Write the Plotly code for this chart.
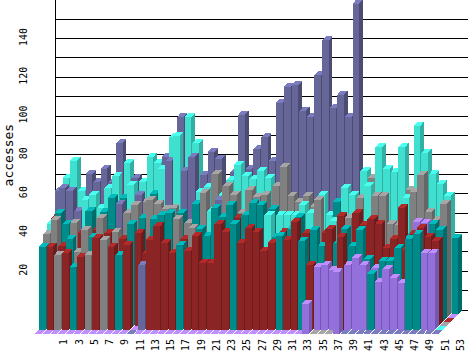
import plotly.graph_objects as go

weeks = list(range(1, 54))
lilac = [0,0,0,0,0,0,0,0,0,0,0,0,0,0,0,0,0,0,0,0,0,0,0,0,0,0,0,0,0,0,0,0,0,0,0,15.5,32.3,33.5,31,32,33.5,37,33.5,29.7,24.9,31.3,27,24,51.7,51,39.5,39.5,0]
teal = [43,56,50.5,44.7,32.3,57,46,56.9,64,62,38.7,52.6,53.4,64,55,57,58,56,43.8,61,50,46.4,60.6,56,62.4,54.6,57.2,63.2,62.4,58,45.7,48.5,50,56,46,49.5,41,60,42.6,50,41,49.5,34.4,28.9,33.7,33.7,40,44,47,49.3,50.5,47.6,39]
red = [51.4,43,41,39.5,46,37.8,47.4,47.3,47.8,43,45,43.8,48,37.5,46.4,53.6,45,39.9,44.7,40.9,48.5,34.7,34.7,54.6,50.7,55.5,45,52.4,50.7,40.9,45,48.6,46.4,55.8,47.8,33.5,46,49.8,54.8,48,56,50,52.9,50.5,38,43,59,39,47.5,50.7,46,44,0]
gray = [47.3,54.6,38.7,50.9,38,49.7,38.7,55.5,46.4,48.6,56,60.3,60,63,61,58,58.6,55,51,50.3,66.7,74,64,70,65.5,56.4,68,64.6,65.5,68,78,63,60,63,57.4,62.9,0,0,0,53.4,61.7,70,63,63,48.5,48,64,65,73.7,54.5,50.6,59,0]
turquoise = [50.5,70,79,63.6,61,63.6,56.5,66.8,73,77.7,68.7,68,81,78,77,91,94,101.5,88,65,67.5,57,63.4,71,78.9,73.2,71.5,76,72,57,55,55,55,60.3,56,63.4,52.9,52,67,63.4,73.5,68,86,75,73,86,61.7,97,83,72,67,61,0]
slate = [63.6,67,65.6,55,72,68,75,68,88,61,70,63.4,0,33.5,81,81,101.5,76,83,71.6,83.5,80,63,73,102.6,75,85,91,79,109,117,118,104.6,101.5,123,141,106,113,101.5,160,0,0,0,0,0,0,0,0,0,0,0,0,0]

tick_weeks = list(range(1, 54, 2))
value_ticks = [20, 40, 60, 80, 100, 120, 140]
grid_values = [10, 20, 30, 40, 50, 60, 70, 80, 90, 100, 110, 120, 130, 140, 150]

# order in which equal values are stacked from front to back
series = [
    ("slate", slate, "#666699", "#4c4c72", "#7b7bbf"),
    ("turquoise", turquoise, "#40e0d0", "#33b0a4", "#48fff0"),
    ("gray", gray, "#808080", "#666666", "#a6a6a6"),
    ("red", red, "#8b2525", "#6b1c1c", "#b22a2a"),
    ("lilac", lilac, "#9370db", "#7558ae", "#c08fff"),
    ("teal", teal, "#008b8b", "#006b6b", "#00bcbc"),
]

PX_WEEK = 7.63
PX_VALUE = 1.94
ROW_X = 4 / PX_WEEK
ROW_Y = 4 / PX_VALUE
FACE_W = 6.7 / PX_WEEK
SIDE_X = 3.7 / PX_WEEK
SIDE_Y = 4 / PX_VALUE
X0 = -29 / PX_WEEK   # front row sits left of the tick position
Y0 = -24 / PX_VALUE  # front row sits below the wall's zero

fig = go.Figure()


def poly(xs, ys, color):
    fig.add_trace(go.Scatter(
        x=xs + xs[:1], y=ys + ys[:1], mode="lines", fill="toself",
        fillcolor=color, line=dict(width=0, color=color),
        hoverinfo="skip", showlegend=False))


# back wall
wall_x = -9 / PX_WEEK + 1
right_x = 1 + 404 / PX_WEEK
for g in grid_values + [0]:
    fig.add_trace(go.Scatter(x=[wall_x if g else right_x - 3.2, right_x], y=[g, g], mode="lines",
                             line=dict(color="black", width=1), hoverinfo="skip", showlegend=False))
fig.add_trace(go.Scatter(x=[wall_x, wall_x], y=[0, 160], mode="lines",
                         line=dict(color="black", width=1), hoverinfo="skip", showlegend=False))

# each week's series are sorted so that the smallest is in front
rows = []
for i, w in enumerate(weeks):
    order = sorted(series, key=lambda s: s[1][i])  # stable sort
    for r, s in enumerate(order):
        rows.append((r, w, s[1][i], s[2], s[3], s[4]))

for r, w, v, front, side, top in sorted(rows, key=lambda t: (-t[0], t[1])):
    xl = w + X0 + r * ROW_X
    xr = xl + FACE_W
    yb = Y0 + r * ROW_Y
    yt = yb + v
    if v > 0:
        poly([xr, xr + SIDE_X, xr + SIDE_X, xr], [yb, yb + SIDE_Y, yt + SIDE_Y, yt], side)
        poly([xl, xr, xr, xl], [yb, yb, yt, yt], front)
    poly([xl, xr, xr + SIDE_X, xl + SIDE_X], [yt, yt, yt + SIDE_Y, yt + SIDE_Y], top)

font = dict(family="DejaVu Sans Mono", size=10, color="black")
fig.update_layout(
    width=468, height=351, autosize=False,
    margin=dict(l=30, r=0, t=0, b=15, pad=0),
    paper_bgcolor="white", plot_bgcolor="white", showlegend=False,
    xaxis=dict(range=[1 - 34 / PX_WEEK, right_x], tickmode="array", tickvals=tick_weeks,
               ticktext=[str(t) for t in tick_weeks], tickangle=-90, showgrid=False, zeroline=False,
               showline=False, ticks="", tickfont=font),
    yaxis=dict(range=[-26 / PX_VALUE, 310 / PX_VALUE], tickmode="array", tickvals=value_ticks,
               ticktext=[str(t) for t in value_ticks], tickangle=-90, showgrid=False, zeroline=False,
               showline=False, ticks="", tickfont=font),
    annotations=[dict(text="accesses", xref="paper", yref="paper", x=9 / 468 - 30 / 438, y=(336 - 155) / 336,
                      xanchor="center", yanchor="middle", textangle=-90, showarrow=False,
                      font=dict(family="DejaVu Sans Mono", size=13, color="black"))],
)
fig.write_html(
    "out.html",
    config={"displayModeBar": False},
    post_script="document.body.style.margin='0';"
                "var s=document.createElement('style');"
                "s.textContent='.scatterlayer path{shape-rendering:crispEdges}';"
                "document.head.appendChild(s);",
)
